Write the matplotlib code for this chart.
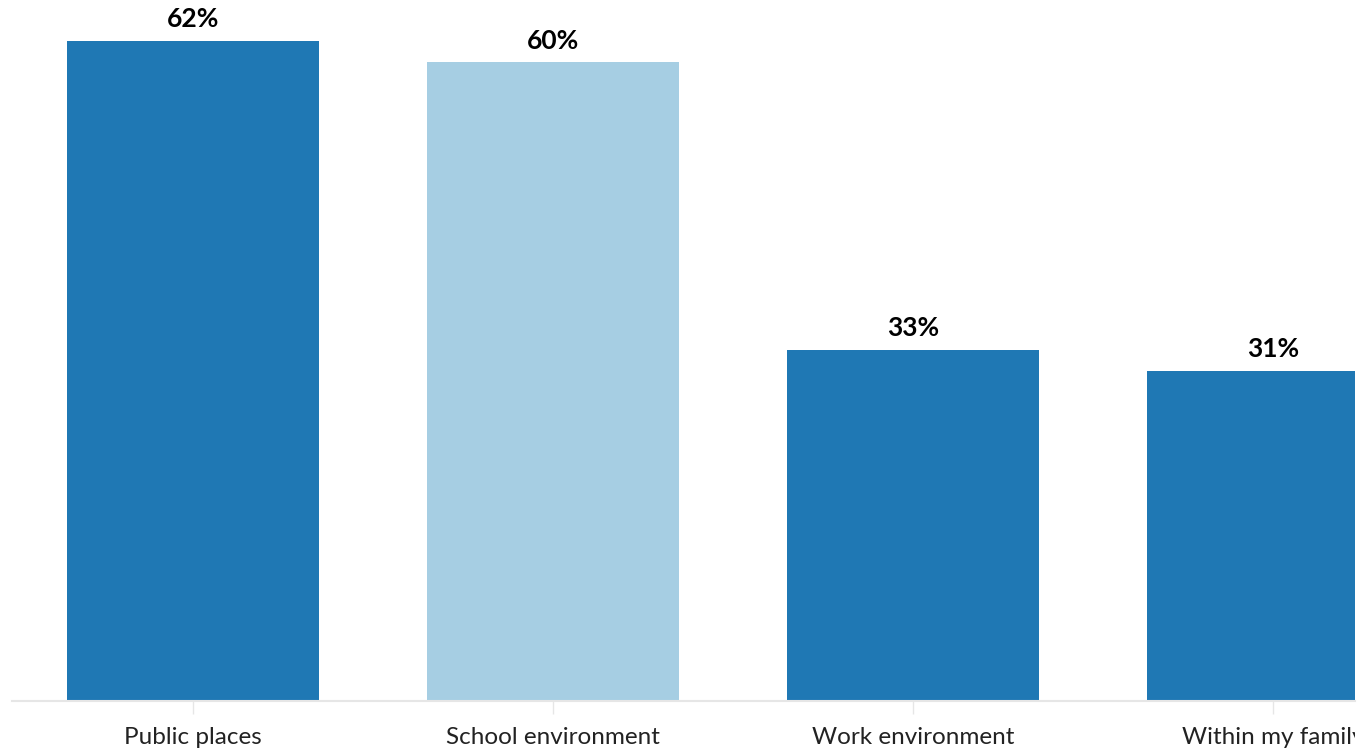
import matplotlib.pyplot as plt
from matplotlib.transforms import Bbox, TransformedBbox

categories = ["Public places", "School environment", "Work environment", "Within my family"]
values = [62, 60, 33, 31]
colors = ["#1f78b4", "#a6cee3", "#1f78b4", "#1f78b4"]

plt.rcParams['font.family'] = ['Lato', 'DejaVu Sans']

fig = plt.figure(figsize=(13.72, 7.5), dpi=100)
W, H = 1372, 750
ax = fig.add_axes([12 / W, 49 / H, (1355 - 12) / W, 701 / H])

x = range(len(categories))
bars = ax.bar(x, values, width=0.7, color=colors, zorder=2)
for xi, v in zip(x, values):
    ax.text(xi, v + 0.9, f"{v}%", ha="center", va="bottom",
            fontsize=19, fontweight="bold", color="#000000")

ax.set_xlim(-0.503, 3.228)
ax.set_ylim(0, 65.85)
ax.set_yticks([])
ax.set_xticks(list(x))
ax.set_xticklabels(categories, fontsize=17.5, color="#222222")
ax.tick_params(axis="x", length=9.5, width=1, color="#e6e6e6", pad=9.5)

for s in ["top", "right", "left"]:
    ax.spines[s].set_visible(False)
ax.spines["bottom"].set_color("#e6e6e6")
ax.spines["bottom"].set_linewidth(1.5)

# right side of the chart is cut off in the reference
clip = TransformedBbox(Bbox([[0, 0], [1355 / W, 1]]), fig.transFigure)
for lab in ax.get_xticklabels():
    lab.set_clip_on(True)
    lab.set_clip_box(clip)

fig.savefig("out.png", dpi=100)
